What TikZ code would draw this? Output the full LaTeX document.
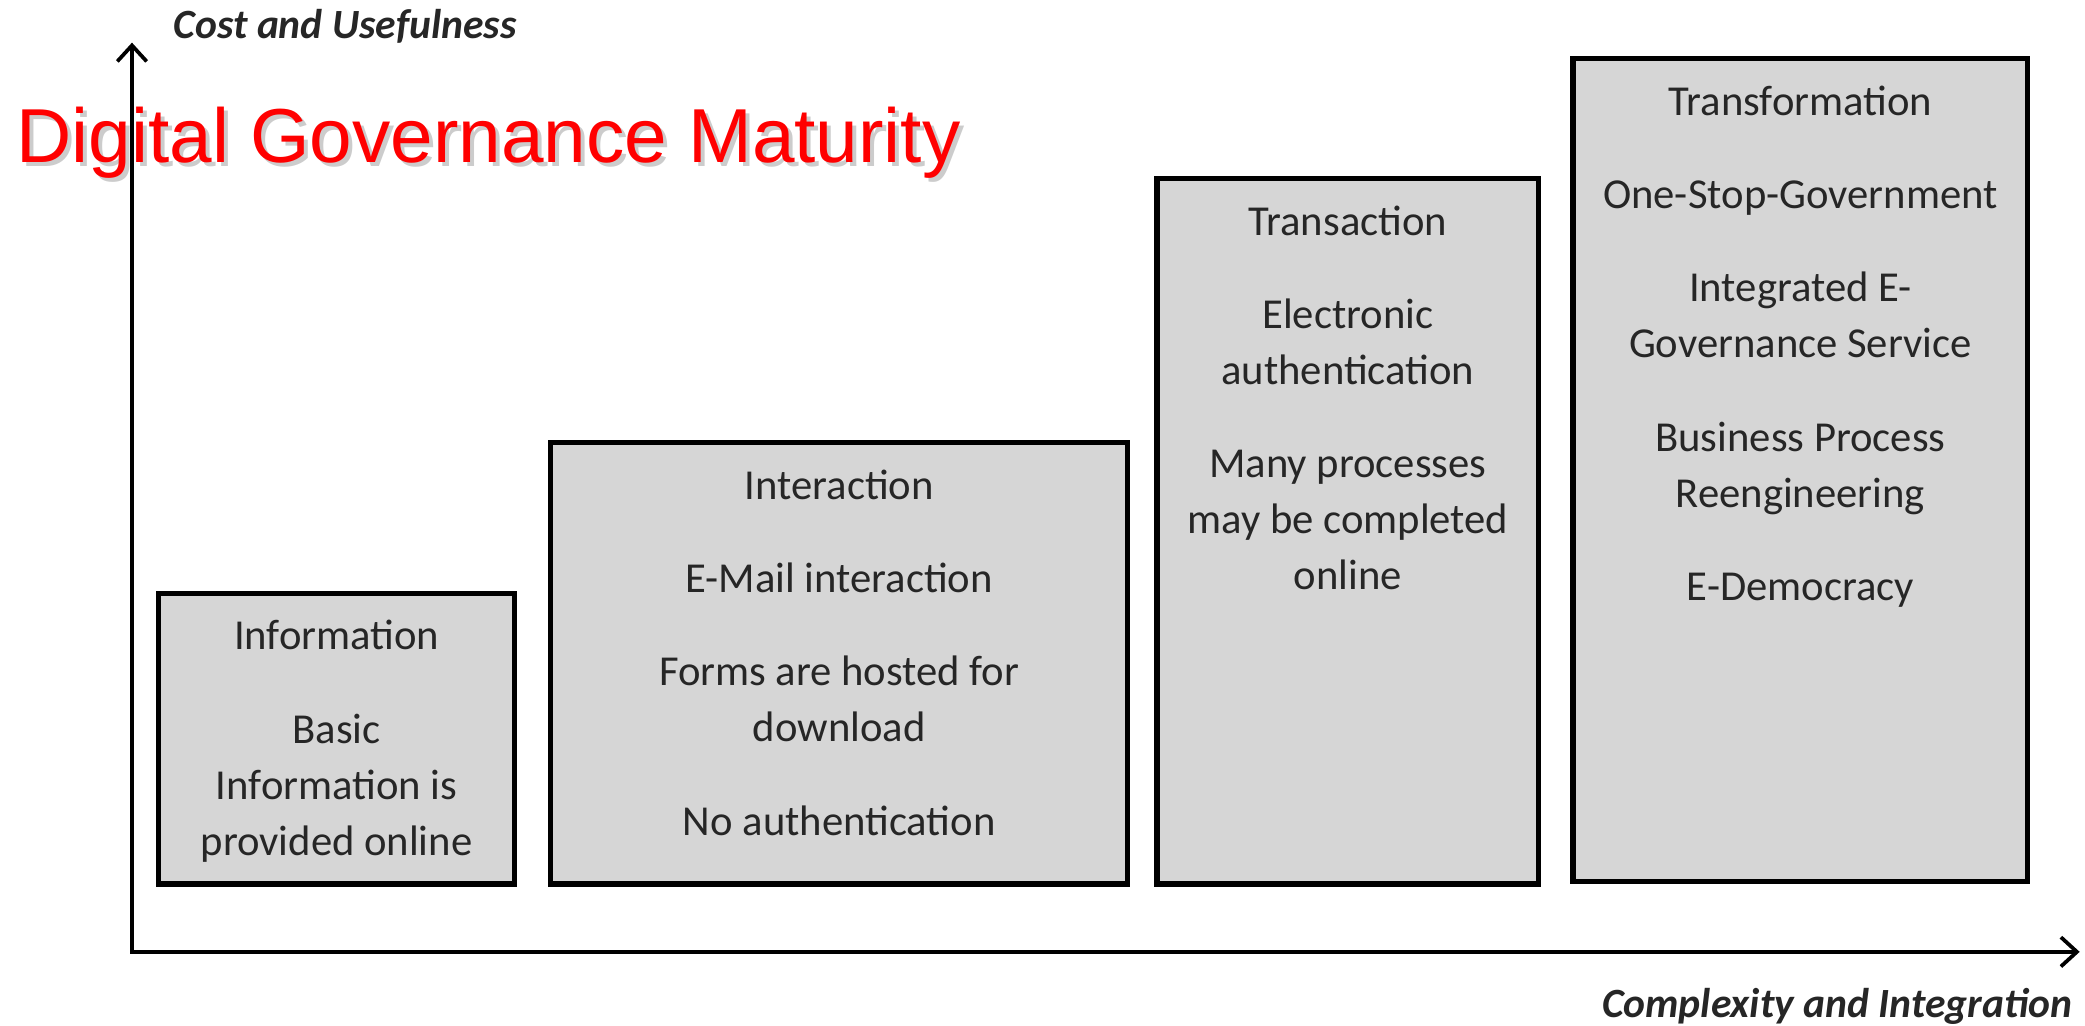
\documentclass[tikz,border=0pt]{standalone}
\usepackage{fontspec}
\setmainfont{Carlito}
\newfontfamily\titlefont{Liberation Sans}
\usetikzlibrary{arrows.meta,positioning}
\definecolor{boxgray}{HTML}{D6D6D6}
\definecolor{shadowgray}{HTML}{CCCCCC}
\tikzset{
  stagebox/.style={draw=black, line width=2pt, fill=boxgray, inner sep=0pt, anchor=north west},
  stagetext/.style={align=center, inner sep=0pt, anchor=north, font=\fontsize{16}{21}\selectfont, text=black!85},
  axislabel/.style={inner sep=0pt, font=\fontsize{15.6}{18}\selectfont\bfseries\itshape, text=black!85},
  axis/.style={line width=1.4pt, {Straight Barb[length=6pt,width=11pt,line width=1.4pt]}-{Straight Barb[length=6pt,width=11pt,line width=1.4pt]}}
}
\newcommand{\pgap}{\\[14pt]}
\begin{document}
\begin{tikzpicture}[x=0.5pt, y=-0.5pt]
    \useasboundingbox (0,0) rectangle (1564,769);
    % First the axes
    \coordinate (origin) at (99,714);
    \coordinate (ytip) at (99,32);
    \coordinate (xtip) at (1560,714);
    \draw[axis] (ytip) -- (origin) -- (xtip);
    \node[axislabel, anchor=west] (ylabel) at (130,20) {Cost and Usefulness};
    \node[axislabel, anchor=east] (xlabel) at (1555,755) {Complexity and Integration};

    % Then the four stages as boxes
    \node[stagebox, minimum width=133.5pt, minimum height=109pt] (info) at (117,443) {};
    \node[stagebox, minimum width=216.5pt, minimum height=165.5pt] (inter) at (411,330) {};
    \node[stagebox, minimum width=143pt, minimum height=264.5pt] (trans) at (866,132) {};
    \node[stagebox, minimum width=170.5pt, minimum height=308.5pt] (transf) at (1178,42) {};

    % Texts inside the boxes
    \node[stagetext] (infotext) at ([yshift=-11pt]info.north)
        {Information\pgap Basic\\ Information is\\ provided online};
    \node[stagetext] (intertext) at ([yshift=-11pt]inter.north)
        {Interaction\pgap E-Mail interaction\pgap Forms are hosted for\\ download\pgap No authentication};
    \node[stagetext] (transtext) at ([yshift=-11pt]trans.north)
        {Transaction\pgap Electronic\\ authentication\pgap Many processes\\ may be completed\\ online};
    \node[stagetext] (transftext) at ([yshift=-11pt]transf.north)
        {Transformation\pgap One-Stop-Government\pgap Integrated E-\\ Governance Service\pgap Business Process\\ Reengineering\pgap E-Democracy};

    % Title with its shadow on top
    \node[anchor=base west, inner sep=0pt, text=shadowgray, font=\titlefont\fontsize{28.7}{31}\selectfont] (titleshadow) at (15,125) {Digital Governance Maturity};
    \node[anchor=base west, inner sep=0pt, text=red, font=\titlefont\fontsize{28.7}{31}\selectfont] (title) at (12,122) {Digital Governance Maturity};
\end{tikzpicture}
\end{document}
